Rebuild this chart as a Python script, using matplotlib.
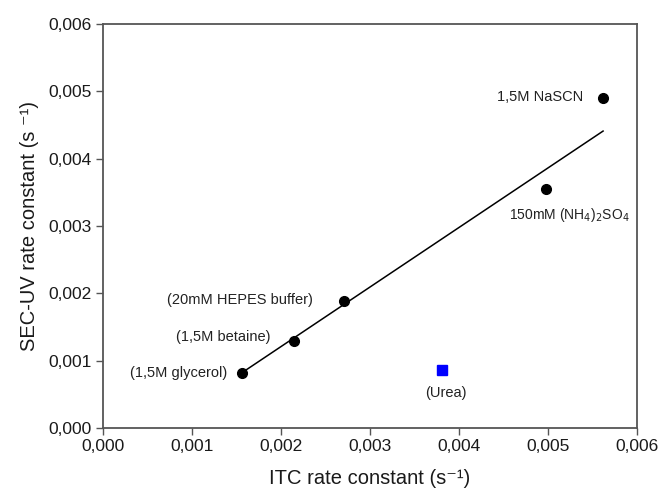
import matplotlib
matplotlib.use('Agg')
import matplotlib.pyplot as plt

plt.rcParams['font.family'] = ['Liberation Sans', 'DejaVu Sans']

# datos (s^-1)
itc = [0.00156, 0.00215, 0.00271, 0.00498, 0.00562]
sec = [0.00082, 0.00129, 0.00189, 0.00355, 0.00490]
etiquetas = ['(1,5M glycerol)', '(1,5M betaine)', '(20mM HEPES buffer)',
             '150mM (NH$_4$)$_2$SO$_4$', '1,5M NaSCN']

urea_x = [0.00381]
urea_y = [0.00086]

# recta de ajuste
linea_x = [0.00156, 0.00562]
linea_y = [0.00082, 0.00441]

ticks = [0.000, 0.001, 0.002, 0.003, 0.004, 0.005, 0.006]
tick_labels = ['0,000', '0,001', '0,002', '0,003', '0,004', '0,005', '0,006']

fig = plt.figure(figsize=(6.69, 4.94), dpi=100)
ax = fig.add_axes([0.154, 0.1336, 0.798, 0.8178])

ax.plot(linea_x, linea_y, '-', color='black', lw=1.1)
ax.plot(itc, sec, 'o', color='black', markersize=7)
ax.plot(urea_x, urea_y, 's', color='#0000ff', markersize=6.5)

# posiciones de las etiquetas (pixeles respecto al punto)
offsets = [(-15, 0, 'right', 'center'), (-24, 4, 'right', 'center'),
           (-31, 1, 'right', 'center'), (-37, -26, 'left', 'center'),
           (-20, 1, 'right', 'center')]
for x, y, t, (dx, dy, ha, va) in zip(itc, sec, etiquetas, offsets):
    fs = 10 if 'NH' in t else 10.5
    ax.annotate(t, (x, y), xytext=(dx, dy), textcoords='offset pixels',
                ha=ha, va=va, fontsize=fs, color='#222222')
ax.annotate('(Urea)', (urea_x[0], urea_y[0]), xytext=(4, -23),
            textcoords='offset pixels', ha='center', va='center',
            fontsize=10.5, color='#222222')

ax.set_xlim(0, 0.006)
ax.set_ylim(0, 0.006)
ax.set_xticks(ticks)
ax.set_xticklabels(tick_labels)
ax.set_yticks(ticks)
ax.set_yticklabels(tick_labels)
ax.tick_params(direction='out', length=5, width=1, color='#555555',
               labelsize=12.5, labelcolor='#1a1a1a', pad=3)
for s in ax.spines.values():
    s.set_color('#555555')
    s.set_linewidth(1.3)

ax.set_xlabel('ITC rate constant (s\u207b\u00b9)', fontsize=14.5, color='#1a1a1a', labelpad=11)
ax.set_ylabel('SEC-UV rate constant (s \u207b\u00b9)', fontsize=14.5, color='#1a1a1a', labelpad=7)

fig.savefig('out.png', dpi=100)
